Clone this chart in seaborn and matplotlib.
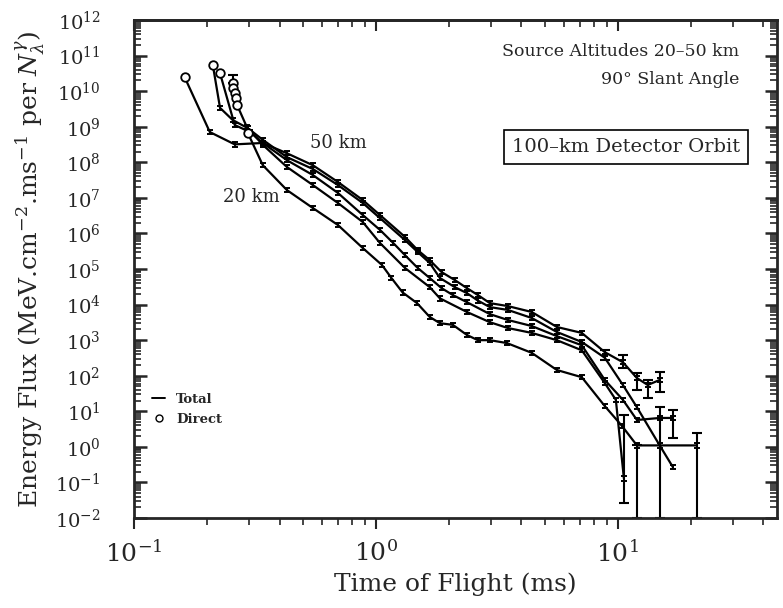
import numpy as np
import pandas as pd
import matplotlib
matplotlib.use('Agg')
import matplotlib.pyplot as plt
import seaborn as sns
from matplotlib.ticker import LogLocator, NullFormatter
from matplotlib.lines import Line2D

# time of flight (ms) and energy flux for the five source altitudes (top curve = 50 km, bottom = 20 km)
t_a = [0.162, 0.206, 0.261, 0.341, 0.429, 0.549, 0.697, 0.883, 1.04, 1.32, 1.49, 1.67, 1.87,
       2.12, 2.38, 2.64, 2.96, 3.51, 4.41, 5.60, 7.10, 8.84, 10.5, 12.0, 13.3, 14.9]
f_a = [2.5e10, 7.1e8, 3.2e8, 3.5e8, 1.8e8, 8.3e7, 2.8e7, 8.7e6, 3.3e6, 8.0e5, 3.4e5, 1.78e5, 8.2e4,
       4.9e4, 2.9e4, 1.86e4, 1.1e4, 9.1e3, 6.2e3, 2.35e3, 1.6e3, 4.6e2, 2.4e2, 86, 55, 76]

t_b = [0.212, 0.227, 0.256, 0.296, 0.341, 0.429, 0.549, 0.697, 0.883, 1.04, 1.32, 1.49, 1.67, 1.84,
       2.12, 2.38, 2.64, 2.96, 3.51, 4.41, 5.60, 7.10, 8.84, 10.5, 12.0, 14.9, 16.9]
f_b = [5.4e10, 3.4e9, 1.55e9, 9.1e8, 4.3e8, 1.4e8, 6.5e7, 2.3e7, 7.2e6, 2.7e6, 6.5e5, 3.0e5, 1.48e5, 5.6e4,
       3.1e4, 2.1e4, 1.3e4, 8.5e3, 7.1e3, 4.2e3, 1.7e3, 8.9e2, 3.2e2, 55, 13, 1.1, 0.27]

t_c = [0.227, 0.261, 0.302, 0.341, 0.429, 0.549, 0.697, 0.883, 1.04, 1.18, 1.32, 1.49, 1.67,
       1.87, 2.08, 2.38, 2.96, 3.51, 4.41, 5.60, 7.10, 8.84, 10.5, 12.0, 14.9, 16.9]
f_c = [3.2e10, 1.12e9, 7.1e8, 3.5e8, 1.15e8, 4.4e7, 1.38e7, 3.3e6, 1.26e6, 5.4e5, 2.45e5, 1.07e5, 5.6e4,
       2.9e4, 1.86e4, 1.17e4, 5.4e3, 3.7e3, 2.5e3, 1.3e3, 7.2e2, 76, 21, 5.7, 6.5, 6.5]

t_d = [0.256, 0.258, 0.261, 0.264, 0.267, 0.293, 0.341, 0.429, 0.549, 0.697, 0.883, 1.04, 1.32,
       1.67, 1.84, 2.38, 2.96, 3.51, 4.41, 5.60, 7.10, 8.84, 9.82, 10.6]
f_d = [1.7e10, 1.23e10, 8.9e9, 6.4e9, 4.1e9, 9.8e8, 3.1e8, 7.4e7, 2.3e7, 7.2e6, 2.1e6, 5.4e5, 1.07e5,
       3.1e4, 1.5e4, 6.2e3, 3.2e3, 2.2e3, 1.6e3, 1.0e3, 5.2e2, 62, 21, 0.13]

t_e = [0.296, 0.341, 0.429, 0.549, 0.697, 0.883, 1.06, 1.16, 1.29, 1.48, 1.67, 1.84, 2.08, 2.38,
       2.64, 2.96, 3.48, 4.41, 5.60, 7.10, 8.84, 10.4, 12.0, 21.2]
f_e = [6.6e8, 8.3e7, 1.66e7, 5.2e6, 1.73e6, 3.9e5, 1.3e5, 5.6e4, 2.2e4, 1.1e4, 4.5e3, 3.0e3, 2.7e3, 1.4e3,
       1.0e3, 1.0e3, 8.3e2, 4.4e2, 1.45e2, 91, 14, 3.9, 1.1, 1.1]

# direct (unscattered) contributions
dir_t = [0.162, 0.212, 0.227, 0.256, 0.258, 0.261, 0.264, 0.267, 0.296]
dir_f = [2.5e10, 5.4e10, 3.2e10, 1.7e10, 1.23e10, 8.9e9, 6.4e9, 4.1e9, 6.6e8]

# larger error bars near the ends of the curves (lower, upper bounds)
err_t = [8.84, 10.5, 12.0, 13.3, 14.9, 14.9, 16.9, 10.6, 12.0, 21.2, 0.256]
err_f = [460, 240, 86, 55, 76, 6.5, 6.5, 0.13, 1.1, 1.1, 1.7e10]
err_lo = [280, 165, 40, 23, 35, 0.01, 1.8, 0.026, 0.01, 0.01, 1.7e10]
err_hi = [540, 380, 119, 76, 130, 13, 10.9, 8, 1.1, 2.5, 2.8e10]

curves = {'a': (t_a, f_a), 'b': (t_b, f_b), 'c': (t_c, f_c), 'd': (t_d, f_d), 'e': (t_e, f_e)}
df = pd.concat([pd.DataFrame({'t': t, 'flux': f, 'curve': k}) for k, (t, f) in curves.items()],
               ignore_index=True)

sns.set_style('ticks')
plt.rcParams['font.family'] = ['DejaVu Serif']
plt.rcParams['mathtext.fontset'] = 'dejavuserif'

fig, ax = plt.subplots(figsize=(7.83, 6.08), dpi=100)
fig.subplots_adjust(left=0.171, right=0.992, top=0.967, bottom=0.148)
ax.set_xscale('log')
ax.set_yscale('log')

sns.lineplot(data=df, x='t', y='flux', units='curve', estimator=None, sort=False,
             color='black', lw=1.6, ax=ax, legend=False)

# small error bars on every bin (look like little bow-ties in the original)
ax.errorbar(df['t'], df['flux'], yerr=[df['flux'] * (1 - 1 / 1.15), df['flux'] * 0.15],
            fmt='none', ecolor='black', elinewidth=1.3, capsize=2.5, capthick=1.4)
ef = np.array(err_f)
ax.errorbar(err_t, ef, yerr=[ef - np.array(err_lo), np.array(err_hi) - ef],
            fmt='none', ecolor='black', elinewidth=1.5, capsize=3.5, capthick=1.5)

sns.scatterplot(x=dir_t, y=dir_f, marker='o', s=38, facecolor='white', edgecolor='black',
                linewidth=1.3, zorder=5, ax=ax)

ax.set_xlim(0.1, 45.4)
ax.set_ylim(1e-2, 1e12)

ax.xaxis.set_major_locator(LogLocator(base=10, numticks=10))
ax.xaxis.set_minor_locator(LogLocator(base=10, subs=np.arange(2, 10), numticks=30))
ax.yaxis.set_major_locator(LogLocator(base=10, numticks=30))
ax.yaxis.set_minor_locator(LogLocator(base=10, subs=np.arange(2, 10), numticks=200))
ax.xaxis.set_minor_formatter(NullFormatter())
ax.yaxis.set_minor_formatter(NullFormatter())

ax.tick_params(axis='x', which='major', direction='out', length=8, width=1.5, labelsize=18, pad=8)
ax.tick_params(axis='x', which='minor', direction='out', length=5, width=1.2)
ax.tick_params(axis='y', which='major', direction='in', length=9, width=1.8, labelsize=14,
               left=True, right=True, pad=24)
ax.tick_params(axis='y', which='minor', direction='in', length=5, width=1.2, left=True, right=True)

top = ax.secondary_xaxis('top')
top.xaxis.set_major_locator(LogLocator(base=10, numticks=10))
top.xaxis.set_minor_locator(LogLocator(base=10, subs=np.arange(2, 10), numticks=30))
top.tick_params(which='both', direction='in', labeltop=False)
top.tick_params(which='major', length=8, width=1.5)
top.tick_params(which='minor', length=5, width=1.2)
top.spines['top'].set_linewidth(2)

for s in ax.spines.values():
    s.set_linewidth(2)
    s.set_visible(True)

ax.set_xlabel('Time of Flight (ms)', fontsize=18, labelpad=4)
ax.set_ylabel(r'Energy Flux (MeV.cm$^{-2}$.ms$^{-1}$ per $N_{\lambda}^{\gamma}$)', fontsize=18, labelpad=6)

ax.text(0.942, 0.936, 'Source Altitudes 20\u201350 km', transform=ax.transAxes, ha='right',
        va='center', fontsize=12.5)
ax.text(0.942, 0.881, '90\u00b0 Slant Angle', transform=ax.transAxes, ha='right',
        va='center', fontsize=12.5)
ax.text(0.765, 0.745, '100\u2013km Detector Orbit', transform=ax.transAxes, ha='center',
        va='center', fontsize=14,
        bbox=dict(boxstyle='square,pad=0.4', facecolor='white', edgecolor='black', linewidth=1.2))

ax.text(0.697, 3.5e8, '50 km', ha='center', va='center', fontsize=13)
ax.text(0.307, 1.05e7, '20 km', ha='center', va='center', fontsize=13)

handles = [Line2D([], [], color='black', lw=1.4),
           Line2D([], [], color='black', marker='o', ls='none', mfc='white', markersize=5)]
ax.legend(handles, ['Total', 'Direct'], loc='upper left', bbox_to_anchor=(0.01, 0.275),
          frameon=False, handlelength=1.0, handletextpad=0.8, labelspacing=0.5,
          prop={'weight': 'bold', 'size': 9.5})

fig.savefig('out.png', dpi=100)
